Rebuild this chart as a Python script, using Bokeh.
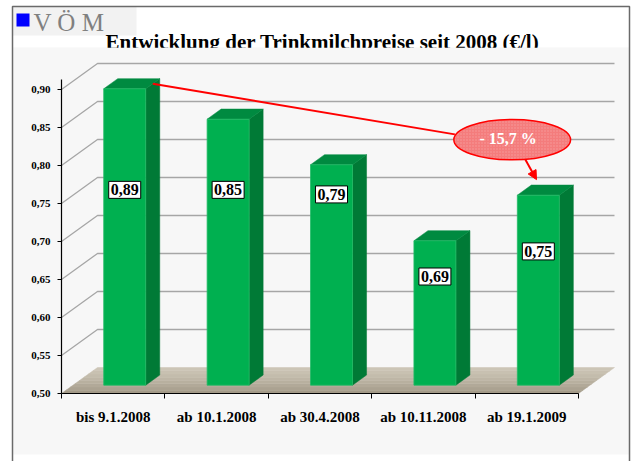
from bokeh.plotting import figure
from bokeh.models import (Range1d, FixedTicker, CustomJSTickFormatter, Arrow,
                          NormalHead)
from bokeh.core.properties import value
from bokeh.embed import file_html
from bokeh.resources import INLINE

# ---------------- data ----------------
categories = ["bis 9.1.2008", "ab 10.1.2008", "ab 30.4.2008", "ab 10.11.2008", "ab 19.1.2009"]
prices = [0.89, 0.85, 0.79, 0.69, 0.75]
price_labels = ["0,89", "0,85", "0,79", "0,69", "0,75"]
label_levels = [0.757, 0.757, 0.751, 0.643, 0.676]   # where the value boxes sit
y_ticks = [0.50, 0.55, 0.60, 0.65, 0.70, 0.75, 0.80, 0.85, 0.90]
y_tick_labels = ["0,50", "0,55", "0,60", "0,65", "0,70", "0,75", "0,80", "0,85", "0,90"]
title_text = "Entwicklung der Trinkmilchpreise seit 2008 (€/l)"
logo_text = "V Ö M"
change_text = "- 15,7 %"

# ---------------- layout constants ----------------
W, H = 632, 461
PX_X = 103.4          # pixels per category
PX_Y = 760.0          # pixels per unit of price
X0_PX = 61            # x=0 (axis) from left of figure
Y0_PX = 393           # y=0.50 from top of figure
DX = 36 / PX_X        # depth offset of the back wall
DY = 26 / PX_Y
D0, D1 = 0.32, 0.71   # bar depth extent
BAR_W = 0.406
BASE = 0.5
SERIF = value("Liberation Serif")
PANEL = "#f7f7f7"

def sx(px):
    return (px - X0_PX) / PX_X

def sy(py):
    return BASE + (Y0_PX - py) / PX_Y

def proj(x, y, d):
    return x + d * DX, y + d * DY

p = figure(width=W, height=H,
           x_range=Range1d(sx(0), sx(W)), y_range=Range1d(sy(H), sy(0)),
           output_backend="svg", toolbar_location=None, min_border=0,
           background_fill_color="white", border_fill_color="white",
           outline_line_color=None)
p.title.visible = False
p.grid.visible = False

# chart panel
p.quad(left=[sx(12)], right=[sx(629)], bottom=[sy(454)], top=[sy(47)],
       fill_color=PANEL, line_color=None)

# logo box
p.quad(left=[sx(12)], right=[sx(136)], bottom=[sy(35)], top=[sy(6)],
       fill_color="#f2f2f2", line_color=None)
p.rect(x=[sx(22.5)], y=[sy(19.5)], width=13, height=13, width_units="screen",
       height_units="screen", fill_color="#0000ff", line_color=None)
p.text(x=[sx(33)], y=[sy(22)], text=[logo_text], text_font=SERIF,
       text_font_size="25px", text_color="#808080", text_align="left",
       text_baseline="alphabetic")

# title (bottom cut by the plot panel)
p.text(x=[sx(322)], y=[sy(41.5)], text=[title_text], text_font=SERIF,
       text_font_style="bold", text_font_size="21px", text_color="black",
       text_align="center", text_baseline="alphabetic")
p.quad(left=[sx(12.5)], right=[sx(628.5)], bottom=[sy(56)], top=[sy(47.3)],
       fill_color=PANEL, line_color=None)

# frame border
p.line([sx(12), sx(12), sx(629), sx(629)], [sy(H), sy(6), sy(6), sy(H)],
       line_color="#6a6a6a", line_width=1.5)

# floor (gradient bands)
floor_cols = ["#a39a88", "#aba291", "#b2a998", "#b8b09f", "#beb6a6", "#c3bcac", "#c8c1b1", "#ccc5b6"]
n = len(floor_cols)
fxs, fys = [], []
for k in range(n):
    da, db = k / n, (k + 1) / n
    pts = [proj(0, BASE, da), proj(5, BASE, da), proj(5, BASE, db), proj(0, BASE, db)]
    fxs.append([q[0] for q in pts]); fys.append([q[1] for q in pts])
p.patches(fxs, fys, fill_color=floor_cols, line_color=floor_cols, line_width=0.5)

# grid lines: left wall + back wall
gx, gy = [], []
for t in y_ticks[1:]:
    a, b, c = proj(0, t, 0), proj(0, t, 1), proj(5, t, 1)
    gx.append([a[0], b[0], c[0]]); gy.append([a[1], b[1], c[1]])
p.multi_line(gx, gy, line_color="#a6a6a6", line_width=1.3)

# bars
front_x, front_y, side_x, side_y, top_x, top_y = [], [], [], [], [], []
for i, v in enumerate(prices):
    a = i + 0.5 - BAR_W / 2
    b = i + 0.5 + BAR_W / 2
    f = [proj(a, BASE, D0), proj(b, BASE, D0), proj(b, v, D0), proj(a, v, D0)]
    s = [proj(b, BASE, D0), proj(b, BASE, D1), proj(b, v, D1), proj(b, v, D0)]
    tp = [proj(a, v, D0), proj(b, v, D0), proj(b, v, D1), proj(a, v, D1)]
    front_x.append([q[0] for q in f]); front_y.append([q[1] for q in f])
    side_x.append([q[0] for q in s]); side_y.append([q[1] for q in s])
    top_x.append([q[0] for q in tp]); top_y.append([q[1] for q in tp])
p.patches(side_x, side_y, fill_color="#007a36", line_color="#007a36", line_width=0.5)
p.patches(top_x, top_y, fill_color="#008a40", line_color="#008a40", line_width=0.5)
p.patches(front_x, front_y, fill_color="#00b050", line_color="#22bb66", line_width=0.8)

# value boxes
p.text(x=[i + 0.5 + D0 * DX for i in range(len(prices))],
       y=[l + D0 * DY for l in label_levels], text=price_labels,
       text_font=SERIF, text_font_style="bold", text_font_size="16px",
       text_color="black", text_align="center", text_baseline="middle",
       background_fill_color="white", border_line_color="black",
       border_line_width=1, padding=dict(left=2, right=2, top=3, bottom=3))

# trend annotation
ex, ey = sx(511.7), sy(139.2)     # ellipse centre
ew, eh = 116.7 / PX_X, 40.3 / PX_Y
start = proj(0 + 0.5 + BAR_W / 2, prices[0], (D0 + D1) / 2)
p.line([start[0], ex - ew / 2 + 0.01], [start[1], ey + 0.007], line_color="red", line_width=2)
p.ellipse(x=[ex], y=[ey], width=ew, height=eh, fill_color="#f47c7c",
          line_color="red", line_width=1.5, hatch_pattern="dot",
          hatch_color="white", hatch_alpha=0.25, hatch_scale=3)
p.text(x=[ex - 0.04], y=[ey + 0.002], text=[change_text], text_font=SERIF,
       text_font_style="bold", text_font_size="16px", text_color="white",
       text_align="center", text_baseline="middle")
p.add_layout(Arrow(end=NormalHead(size=9, fill_color="red", line_color="red"),
                   x_start=ex + 0.128, y_start=ey - eh / 2,
                   x_end=ex + 0.235, y_end=ey - eh / 2 - 0.026,
                   line_color="red", line_width=2))

# axes
yax = p.yaxis[0]
yax.fixed_location = 0
yax.bounds = (0.5, 0.913)
yax.ticker = FixedTicker(ticks=y_ticks)
yax.formatter = CustomJSTickFormatter(args=dict(vals=y_ticks, labs=y_tick_labels), code="""
for (let i = 0; i < vals.length; i++) { if (Math.abs(vals[i] - tick) < 1e-6) return labs[i]; }
return '';""")
yax.major_tick_out = 4
yax.major_tick_in = 0
yax.minor_tick_out = 0
yax.minor_tick_in = 0
yax.major_label_standoff = 7
yax.axis_line_color = "black"
yax.axis_line_width = 1.2
yax.major_tick_line_color = "black"
yax.major_label_text_font = "Liberation Serif"
yax.major_label_text_font_style = "bold"
yax.major_label_text_font_size = "11px"
yax.major_label_text_color = "black"

xax = p.xaxis[0]
xax.fixed_location = 0.5
xax.bounds = (0, 5)
xax.ticker = FixedTicker(ticks=[i + 0.5 for i in range(len(categories))],
                         minor_ticks=list(range(len(categories) + 1)))
xax.formatter = CustomJSTickFormatter(args=dict(labs=categories),
                                      code="return labs[Math.floor(tick)];")
xax.major_tick_out = 0
xax.major_tick_in = 0
xax.minor_tick_out = 5
xax.minor_tick_in = 0
xax.minor_tick_line_color = "black"
xax.major_label_standoff = 10
xax.axis_line_color = "black"
xax.axis_line_width = 1.2
xax.major_label_text_font = "Liberation Serif"
xax.major_label_text_font_style = "bold"
xax.major_label_text_font_size = "15px"
xax.major_label_text_color = "black"

open("out.html", "w").write(file_html(p, INLINE))
